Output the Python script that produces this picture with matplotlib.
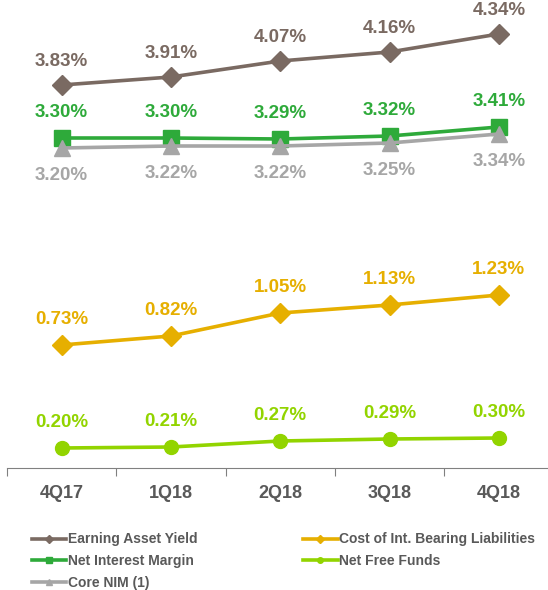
import matplotlib.pyplot as plt
from matplotlib.lines import Line2D

plt.rcParams['font.family'] = ['Liberation Sans', 'DejaVu Sans']

# --- data ---
quarters = ['4Q17', '1Q18', '2Q18', '3Q18', '4Q18']
earning_asset_yield = [3.83, 3.91, 4.07, 4.16, 4.34]
net_interest_margin = [3.30, 3.30, 3.29, 3.32, 3.41]
core_nim = [3.20, 3.22, 3.22, 3.25, 3.34]
cost_ibl = [0.73, 0.82, 1.05, 1.13, 1.23]
net_free_funds = [0.20, 0.21, 0.27, 0.29, 0.30]

c_eay = '#7A6A62'
c_nim = '#2EAA3A'
c_core = '#A6A6A6'
c_cost = '#E6AF00'
c_nff = '#92D400'
c_text = '#595959'

fig = plt.figure(figsize=(5.48, 5.9), dpi=100)
ax = fig.add_axes([7 / 548, 122 / 590, 541 / 548, 460 / 590])
x = list(range(len(quarters)))

ax.set_xlim(-0.5, 4.45)
ax.set_ylim(0, 4.6)

# cost of liabilities sits on its own (hidden) axis, shifted up
ax2 = ax.twinx()
ax2.set_ylim(-0.5, 4.1)
ax2.axis('off')


def draw(a, vals, color, marker, ms, label, offset=18.5):
    line, = a.plot(x, vals, color=color, lw=2.6, marker=marker, ms=ms,
                   label=label, zorder=3)
    for xi, v in zip(x, vals):
        a.annotate(f'{v:.2f}%', (xi, v), xytext=(0, offset),
                   textcoords='offset points', ha='center', va='center',
                   fontsize=13.5, fontweight='bold', color=color)
    return line


h1 = draw(ax, earning_asset_yield, c_eay, 'D', 10, 'Earning Asset Yield', 17)
h2 = draw(ax, net_interest_margin, c_nim, 's', 11, 'Net Interest Margin')
h3 = draw(ax, core_nim, c_core, '^', 12, 'Core NIM (1)', -20)
h4 = draw(ax2, cost_ibl, c_cost, 'D', 10, 'Cost of Int. Bearing Liabilities')
h5 = draw(ax, net_free_funds, c_nff, 'o', 10, 'Net Free Funds')
ax.set_zorder(ax2.get_zorder() + 1)
ax.patch.set_visible(False)

for s in ['top', 'right', 'left']:
    ax.spines[s].set_visible(False)
ax.spines['bottom'].set_color('#808080')
ax.set_yticks([])
ax.set_xticks([i - 0.5 for i in x], minor=False)
ax.set_xticklabels([])
ax.tick_params(axis='x', length=6, color='#808080', direction='out')
for xi, q in zip(x, quarters):
    ax.text(xi, -0.26, q, ha='center', va='center', fontsize=13,
            fontweight='bold', color=c_text)

leg_handles = [Line2D([], [], color=h.get_color(), lw=2.6, marker=h.get_marker(), ms=4)
               for h in [h1, h2, h3, h4, h5]]
leg = fig.legend(leg_handles, [h.get_label() for h in [h1, h2, h3, h4, h5]],
                 ncol=2, loc='upper left', bbox_to_anchor=(19 / 548, 1 - 520 / 590),
                 frameon=False, handlelength=2.5, handletextpad=0.1,
                 columnspacing=7.6, labelspacing=0.55,
                 prop={'size': 10, 'weight': 'bold'})
for t in leg.get_texts():
    t.set_color(c_text)

fig.savefig('out.png', dpi=100)
